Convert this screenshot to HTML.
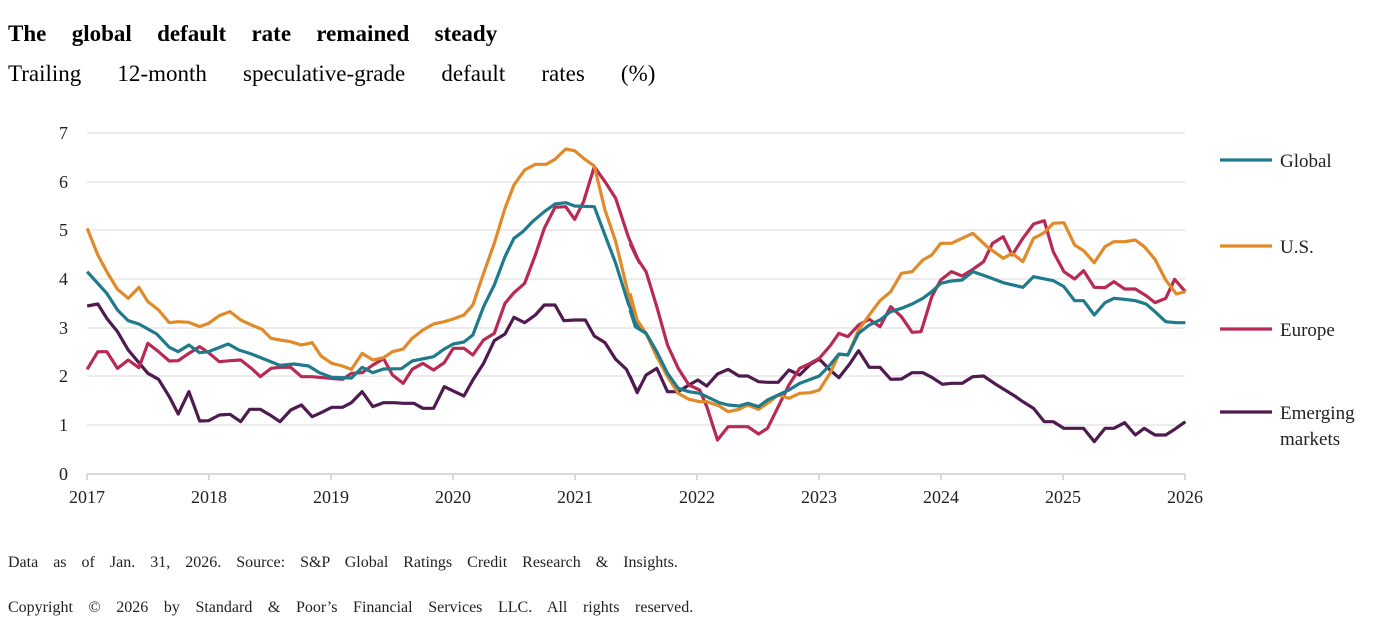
<!DOCTYPE html><html><head><meta charset="utf-8"><style>
body{margin:0;background:#fff;width:1381px;height:633px;overflow:hidden;font-family:"Liberation Serif",serif;}
</style></head><body>
<svg width="1381" height="633" xmlns="http://www.w3.org/2000/svg" font-family="Liberation Serif, serif">
<text x="8" y="41" font-size="23" font-weight="bold" word-spacing="19.6">The global default rate remained steady</text>
<text x="8" y="81" font-size="23" word-spacing="30.4">Trailing 12-month speculative-grade default rates (%)</text>
<g stroke="#e6e6e6" stroke-width="1.5">
<line x1="87" x2="1185" y1="133" y2="133"/><line x1="87" x2="1185" y1="182" y2="182"/><line x1="87" x2="1185" y1="230" y2="230"/><line x1="87" x2="1185" y1="279" y2="279"/><line x1="87" x2="1185" y1="328" y2="328"/><line x1="87" x2="1185" y1="376" y2="376"/><line x1="87" x2="1185" y1="425" y2="425"/>
</g>
<g stroke="#d9d9d9" stroke-width="2"><line x1="87" x2="1185" y1="474" y2="474"/>
<line x1="87" x2="87" y1="474" y2="480"/><line x1="209" x2="209" y1="474" y2="480"/><line x1="331" x2="331" y1="474" y2="480"/><line x1="453" x2="453" y1="474" y2="480"/><line x1="575" x2="575" y1="474" y2="480"/><line x1="697" x2="697" y1="474" y2="480"/><line x1="819" x2="819" y1="474" y2="480"/><line x1="941" x2="941" y1="474" y2="480"/><line x1="1063" x2="1063" y1="474" y2="480"/><line x1="1185" x2="1185" y1="474" y2="480"/></g>
<g font-size="18" text-anchor="end" fill="#222">
<text x="68" y="139">7</text><text x="68" y="188">6</text><text x="68" y="236">5</text><text x="68" y="285">4</text><text x="68" y="334">3</text><text x="68" y="382">2</text><text x="68" y="431">1</text><text x="68" y="480">0</text></g>
<g font-size="18" text-anchor="middle" fill="#222">
<text x="87" y="503">2017</text><text x="209" y="503">2018</text><text x="331" y="503">2019</text><text x="453" y="503">2020</text><text x="575" y="503">2021</text><text x="697" y="503">2022</text><text x="819" y="503">2023</text><text x="941" y="503">2024</text><text x="1063" y="503">2025</text><text x="1185" y="503">2026</text></g>
<g fill="none" stroke-width="3.2" stroke-linejoin="round">
<g transform="translate(80,130) scale(0.35714,0.33333)">
<polyline vector-effect="non-scaling-stroke" stroke="#4f1a50" points="20,528 50,522 75,565 105,605 135,660 165,698 190,730 220,748 250,800 275,852 305,785 335,873 360,872 390,855 420,853 450,875 475,838 505,838 535,857 560,875 590,840 620,825 650,860 675,848 705,832 735,832 760,818 790,785 820,830 850,818 880,818 905,820 935,820 960,835 990,835 1020,770 1045,783 1075,798 1100,750 1130,700 1160,632 1190,612 1215,562 1245,578 1275,555 1300,525 1330,525 1355,572 1385,570 1415,570 1440,618 1470,638 1500,688 1530,718 1560,785 1568,770"/>
<polyline vector-effect="non-scaling-stroke" stroke="#b82a54" points="20,718 50,665 75,665 105,715 135,690 165,713 190,640 220,665 250,693 275,692 305,670 335,650 360,668 390,695 420,692 450,690 480,715 505,740 535,715 560,712 590,712 620,740 650,740 700,745 735,748 760,730 790,728 820,705 850,686 875,735 905,760 930,718 960,700 990,720 1020,698 1045,655 1075,655 1100,675 1130,630 1160,610 1190,520 1215,488 1245,460 1275,375 1300,295 1330,232 1360,230 1385,268 1410,215 1440,110 1470,155 1500,205 1535,320 1565,395 1568,400"/>
<polyline vector-effect="non-scaling-stroke" stroke="#e08a2a" points="20,295 50,375 75,425 105,478 135,505 165,472 190,515 220,540 250,578 275,575 305,577 335,590 360,580 390,557 420,545 450,570 480,585 510,598 535,625 560,630 590,635 620,645 650,638 675,678 705,700 735,708 760,718 790,670 820,690 850,683 875,665 905,657 930,625 960,600 990,582 1020,575 1045,567 1075,555 1100,525 1130,430 1160,340 1190,235 1215,165 1245,120 1275,103 1305,103 1330,88 1360,57 1385,62 1410,85 1440,108 1470,240 1500,335 1535,490 1565,590 1568,595"/>
<polyline vector-effect="non-scaling-stroke" stroke="#1f7a8c" points="20,425 75,490 105,540 135,572 165,582 215,612 250,652 275,665 305,645 335,668 360,665 415,642 445,660 480,672 560,706 600,702 640,708 670,728 705,742 760,744 790,712 820,728 850,717 900,716 930,693 990,680 1020,657 1045,642 1075,636 1100,615 1130,530 1160,465 1190,380 1215,325 1240,305 1270,272 1300,245 1330,222 1360,218 1385,228 1440,230 1475,330 1500,400 1535,520 1565,595 1568,598"/>
</g>
<g transform="translate(630,130) scale(0.35714,0.33333)">
<polyline vector-effect="non-scaling-stroke" stroke="#4f1a50" points="0,738 20,788 45,735 75,715 105,785 135,785 165,765 190,750 215,768 245,732 275,718 305,738 330,738 360,755 385,757 415,757 445,720 475,735 505,703 530,687 560,720 585,743 615,702 640,662 670,712 700,712 730,748 760,747 790,728 820,728 845,742 875,763 900,760 930,760 960,740 990,738 1020,760 1050,780 1080,800 1100,815 1130,835 1160,875 1185,875 1215,895 1245,895 1270,895 1300,935 1330,895 1355,895 1385,878 1415,915 1440,895 1470,915 1500,915 1525,898 1555,875"/>
<polyline vector-effect="non-scaling-stroke" stroke="#b82a54" points="0,340 20,385 45,425 75,530 105,645 135,715 165,765 195,780 215,830 245,930 275,890 305,890 330,890 360,912 385,895 415,830 445,765 475,715 505,700 530,685 560,648 585,610 610,620 640,585 670,568 700,590 730,530 760,560 790,607 815,605 845,500 870,450 900,425 930,438 960,418 990,395 1015,340 1045,320 1070,375 1100,325 1130,282 1160,272 1185,365 1215,425 1245,447 1270,422 1300,472 1330,473 1355,455 1385,477 1415,477 1445,497 1470,518 1500,505 1525,448 1555,485"/>
<polyline vector-effect="non-scaling-stroke" stroke="#e08a2a" points="0,490 20,570 45,610 75,680 105,740 135,790 165,808 195,815 215,815 250,828 275,845 305,838 330,825 360,838 385,820 415,795 445,805 475,790 505,788 530,780 560,730 585,673 610,675 640,600 670,555 700,512 730,485 760,430 790,425 820,390 845,375 870,340 900,340 930,325 960,310 1000,350 1045,385 1070,370 1100,395 1130,325 1160,308 1185,280 1215,278 1245,345 1270,362 1300,398 1330,350 1355,335 1385,335 1415,330 1440,350 1470,388 1500,450 1530,492 1555,485"/>
<polyline vector-effect="non-scaling-stroke" stroke="#1f7a8c" points="0,540 15,590 45,610 75,665 105,730 135,775 165,785 195,790 215,800 250,818 275,825 305,828 330,820 360,830 385,810 415,795 445,780 475,760 505,748 530,738 560,705 585,672 610,675 640,610 670,585 700,570 730,545 760,535 790,522 820,505 845,485 870,460 900,453 930,450 960,425 1000,440 1045,458 1100,472 1130,440 1185,452 1215,470 1245,512 1270,512 1300,555 1330,518 1355,505 1385,508 1415,512 1445,522 1470,545 1500,575 1530,578 1555,578"/>
</g>
</g>
<g stroke-width="3.2"><line x1="1220" x2="1272" y1="160" y2="160" stroke="#1f7a8c"/><line x1="1220" x2="1272" y1="246" y2="246" stroke="#e08a2a"/><line x1="1220" x2="1272" y1="329" y2="329" stroke="#b82a54"/><line x1="1220" x2="1272" y1="412" y2="412" stroke="#4f1a50"/></g>
<g font-size="19" fill="#222"><text x="1280" y="167">Global</text><text x="1280" y="253">U.S.</text><text x="1280" y="336">Europe</text><text x="1280" y="419">Emerging</text><text x="1280" y="445">markets</text></g>
<text x="8" y="567" font-size="16" fill="#222" word-spacing="11">Data as of Jan. 31, 2026. Source: S&amp;P Global Ratings Credit Research &amp; Insights.</text>
<text x="8" y="612" font-size="16" fill="#222" word-spacing="11.6">Copyright © 2026 by Standard &amp; Poor’s Financial Services LLC. All rights reserved.</text>
</svg></body></html>
